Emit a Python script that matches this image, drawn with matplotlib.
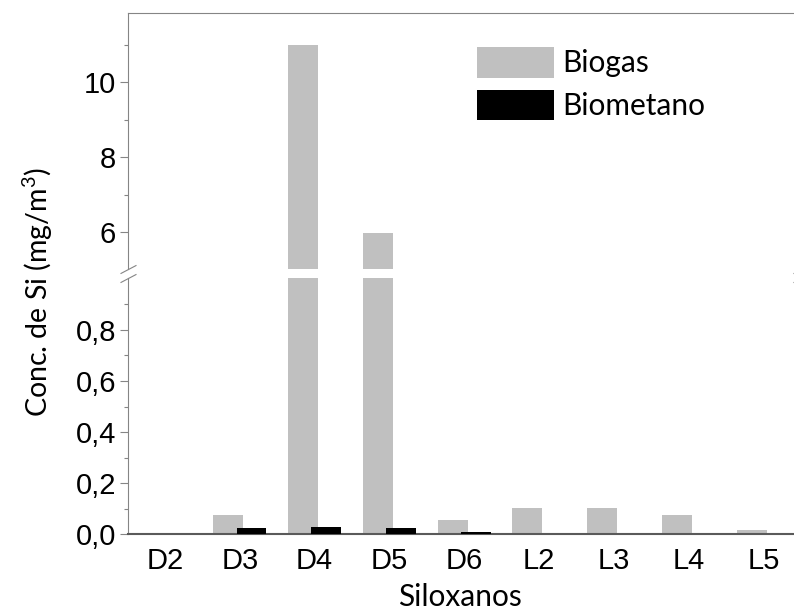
import matplotlib
matplotlib.use("Agg")
import matplotlib.pyplot as plt
from matplotlib.patches import Patch
from matplotlib.ticker import FixedLocator, FuncFormatter
import numpy as np

# Siloxane concentrations (mg/m3 of Si)
siloxanes = ["D2", "D3", "D4", "D5", "D6", "L2", "L3", "L4", "L5"]
biogas = [0.0, 0.074, 11.0, 5.97, 0.057, 0.102, 0.102, 0.074, 0.016]
biometano = [0.0, 0.026, 0.030, 0.026, 0.010, 0.0, 0.0, 0.0, 0.0]

low_major = [0.0, 0.2, 0.4, 0.6, 0.8]
low_minor = [0.1, 0.3, 0.5, 0.7, 0.9]
high_major = [6, 8, 10]
high_minor = [7, 9, 11]

W, H = 794, 612
fig = plt.figure(figsize=(W / 100, H / 100), dpi=100)

TICK_FONT = "Liberation Sans"
TEXT_FONT = "Lato"
TICK_SIZE = 21
plt.rcParams["mathtext.fontset"] = "custom"
plt.rcParams["mathtext.rm"] = TEXT_FONT
plt.rcParams["mathtext.it"] = TEXT_FONT

left_px, right_px = 127.7, 800.8
low_bot, low_top = 534.3, 277.7
up_bot, up_top = 269.0, 13.3

def frac_box(x0, x1, ybot, ytop):
    return [x0 / W, 1 - ybot / H, (x1 - x0) / W, (ybot - ytop) / H]

ax_lo = fig.add_axes(frac_box(left_px, right_px, low_bot, low_top))
ax_hi = fig.add_axes(frac_box(left_px, right_px, up_bot, up_top))

x = np.arange(len(siloxanes))
off, width = 0.155, 0.4
grey = "#c0c0c0"
spine_col = "#858585"

for ax in (ax_lo, ax_hi):
    ax.bar(x - off, biogas, width, color=grey, zorder=2)
    ax.bar(x + off, biometano, width, color="black", zorder=3)
    ax.set_xlim(-0.5, 8.5)
    ax.spines["right"].set_visible(False)
    ax.spines["left"].set_color(spine_col)
    ax.spines["left"].set_linewidth(0.8)
    ax.tick_params(axis="y", which="major", direction="out", length=5.5,
                   width=0.8, color=spine_col, pad=3)
    ax.tick_params(axis="y", which="minor", direction="out", length=2.9,
                   width=0.8, color=spine_col)

ax_lo.set_ylim(0, 1.004)
ax_hi.set_ylim(5.02, 11.84)

ax_lo.spines["top"].set_visible(False)
ax_lo.spines["bottom"].set_color("#5a5a5a")
ax_lo.spines["bottom"].set_linewidth(1.5)
ax_hi.spines["bottom"].set_visible(False)
ax_hi.spines["top"].set_color(spine_col)
ax_hi.spines["top"].set_linewidth(0.8)

ax_lo.yaxis.set_major_locator(FixedLocator(low_major))
ax_lo.yaxis.set_minor_locator(FixedLocator(low_minor))
ax_lo.yaxis.set_major_formatter(FuncFormatter(lambda v, p: f"{v:.1f}".replace(".", ",")))
ax_hi.yaxis.set_major_locator(FixedLocator(high_major))
ax_hi.yaxis.set_minor_locator(FixedLocator(high_minor))
ax_hi.yaxis.set_major_formatter(FuncFormatter(lambda v, p: f"{v:.0f}"))

ax_hi.set_xticks([])
ax_lo.set_xticks(x)
ax_lo.set_xticklabels(siloxanes, fontfamily=TICK_FONT, fontsize=TICK_SIZE)
ax_lo.tick_params(axis="x", length=0, pad=9)

for ax in (ax_lo, ax_hi):
    for lbl in ax.get_yticklabels():
        lbl.set_fontfamily(TICK_FONT)
        lbl.set_fontsize(TICK_SIZE)

# break marks on both ends of the split axis
mk = dict(marker=[(-1, -0.525), (1, 0.525)], markersize=11.5, linestyle="none",
          color=spine_col, mec=spine_col, mew=0.8, clip_on=False)
ax_hi.plot([0, 1], [0, 0], transform=ax_hi.transAxes, **mk)
ax_lo.plot([0, 1], [1, 1], transform=ax_lo.transAxes, **mk)

ax_lo.set_xlabel("Siloxanos", fontfamily=TEXT_FONT, fontsize=21.5)
ax_lo.xaxis.set_label_coords((460 - left_px) / (right_px - left_px), -0.19)

fig.text(38 / W, 1 - 292 / H, r"Conc. de Si (mg/m$^{3}$)", rotation=90,
         ha="center", va="center", fontfamily=TEXT_FONT, fontsize=20.5)

handles = [Patch(facecolor=grey, edgecolor="none", label="Biogas"),
           Patch(facecolor="black", edgecolor="none", label="Biometano")]
fig.legend(handles=handles, loc="upper left",
           bbox_to_anchor=(476.7 / W, 1 - 47 / H), frameon=False,
           prop={"family": TEXT_FONT, "size": 21.5}, handlelength=2.6,
           handleheight=1.2, handletextpad=0.27, labelspacing=0.4,
           borderpad=0, borderaxespad=0)

fig.savefig("out.png", dpi=100)
